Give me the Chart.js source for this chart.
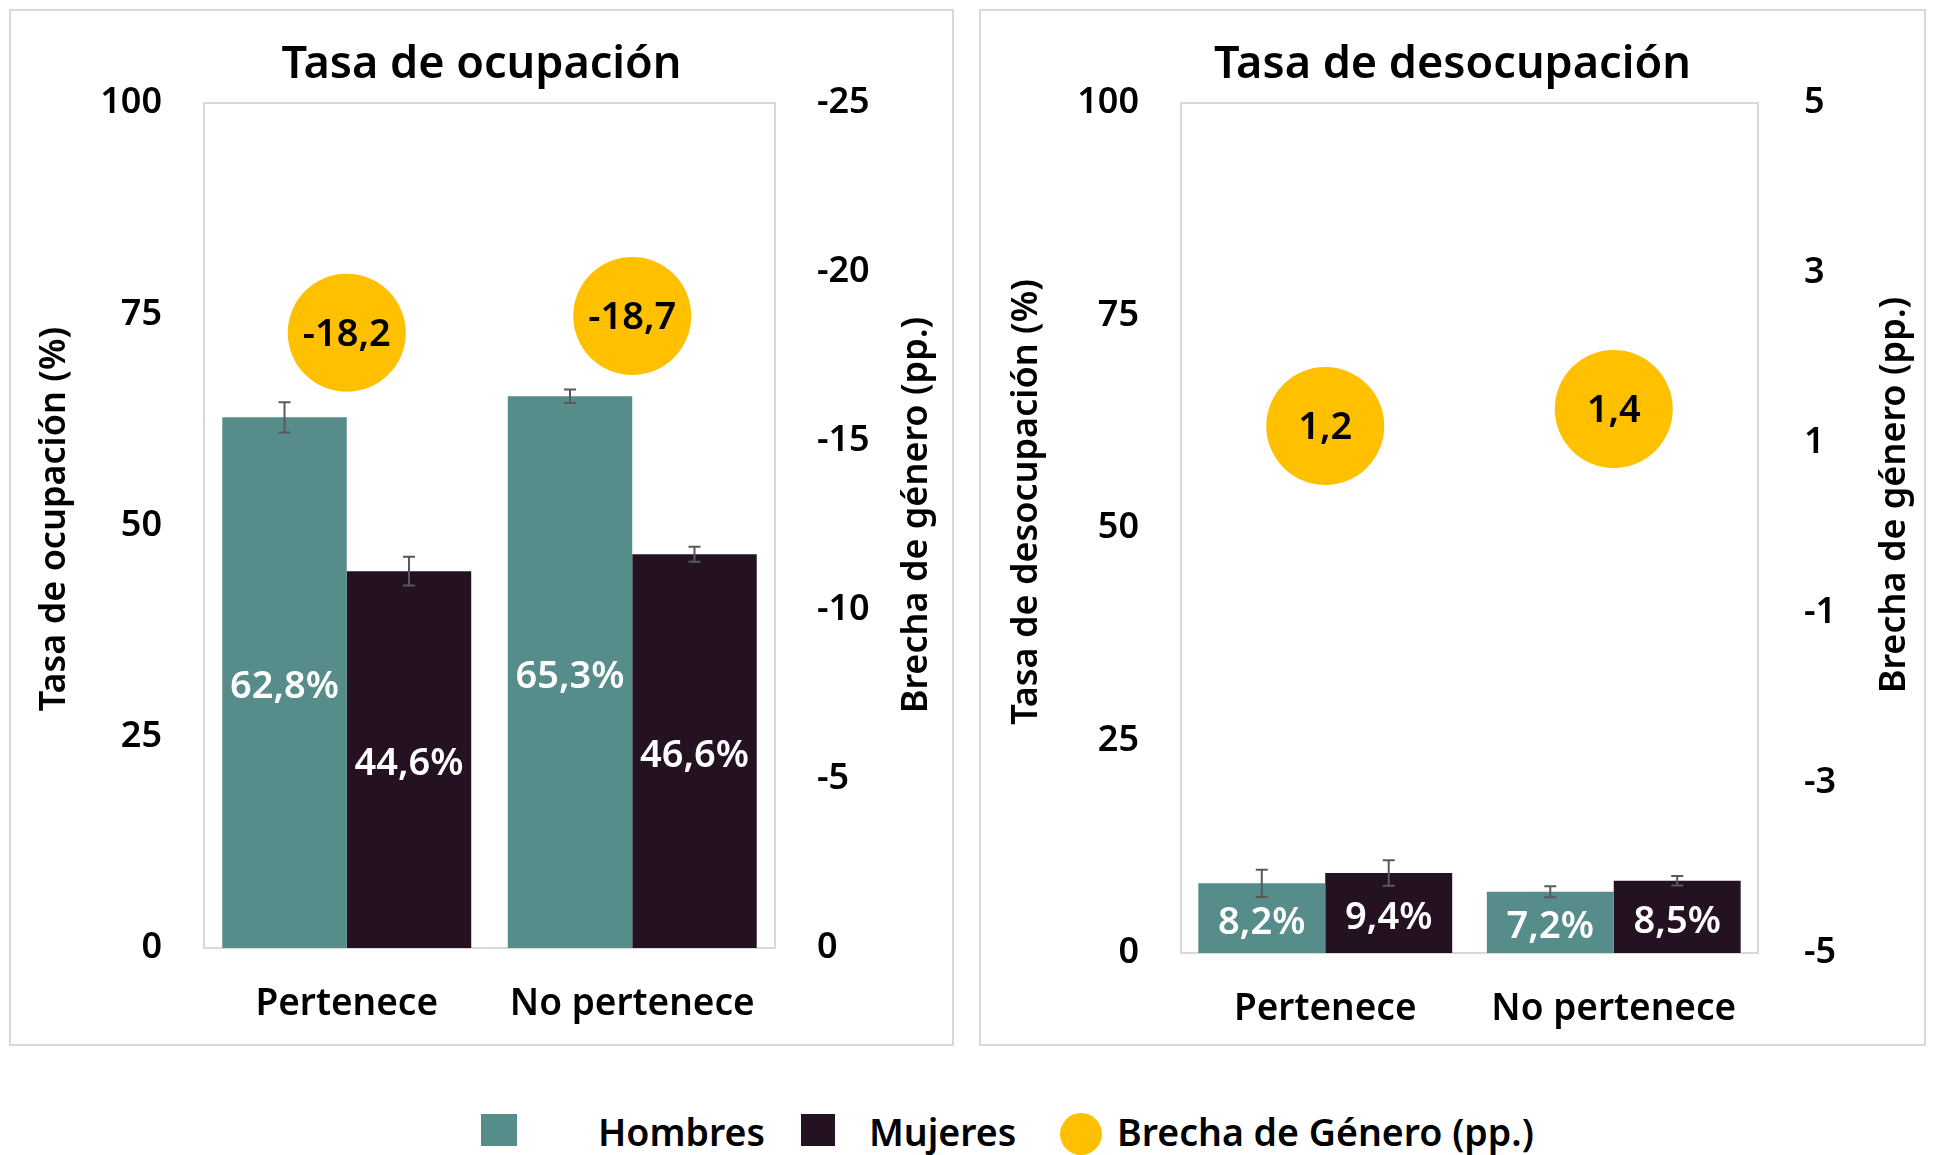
<!DOCTYPE html>
<html lang="es">
<head>
<meta charset="UTF-8">
<title>Tasa de ocupación y desocupación</title>
<script src="https://cdn.jsdelivr.net/npm/chart.js"></script>
<style>
    body {
        margin: 0;
        width: 1933px;
        height: 1155px;
        overflow: hidden;
        background: #fff;
        font-family: 'Noto Sans', sans-serif;
        position: relative;
    }
    .panel {
        position: absolute;
        top: 9px;
        height: 1037px;
        box-sizing: border-box;
        border: 2px solid #d9d9d9;
    }
    #panelLeft { left: 9px; width: 945px; }
    #panelRight { left: 979px; width: 947px; }
    .panel canvas { position: absolute; left: 0; top: 0; }
    .legend-item {
        position: absolute;
        top: 1107px;
        font-size: 37.5px;
        font-weight: 600;
        color: #000;
        line-height: 50px;
        white-space: nowrap;
    }
    .swatch { position: absolute; }
</style>
</head>
<body>

<div class="panel" id="panelLeft"><canvas id="chartOcup" width="941" height="1033"></canvas></div>
<div class="panel" id="panelRight"><canvas id="chartDesocup" width="943" height="1033"></canvas></div>
<div id="legend"></div>

<script>
    // categorías y series
    const categories = ["Pertenece", "No pertenece"];
    const seriesNames = ["Hombres", "Mujeres", "Brecha de Género (pp.)"];
    const colors = ["#568c89", "#241223", "#ffc000"];

    // Tasa de ocupación (%)
    const ocupHombres = [62.8, 65.3];
    const ocupMujeres = [44.6, 46.6];
    const ocupHombresErr = [1.8, 0.8];
    const ocupMujeresErr = [1.7, 0.9];
    const ocupBrecha = [-18.2, -18.7];

    // Tasa de desocupación (%)
    const desocupHombres = [8.2, 7.2];
    const desocupMujeres = [9.4, 8.5];
    const desocupHombresErr = [1.6, 0.65];
    const desocupMujeresErr = [1.5, 0.55];
    const desocupBrecha = [1.2, 1.4];

    // ticks
    const rateTicks = [0, 25, 50, 75, 100];
    const ocupGapTicks = [-25, -20, -15, -10, -5, 0];
    const desocupGapTicks = [-5, -3, -1, 1, 3, 5];

    Chart.defaults.font.family = "'Noto Sans', sans-serif";
    Chart.defaults.font.weight = "600";
    Chart.defaults.color = "#000";

    const fmt = v => v.toFixed(1).replace(".", ",");

    // dibuja borde del área, barras de error, etiquetas y títulos
    const extras = {
        id: "extras",
        beforeDatasetsDraw(chart) {
            const a = chart.chartArea, ctx = chart.ctx;
            ctx.save();
            ctx.strokeStyle = "#d9d9d9";
            ctx.lineWidth = 2;
            ctx.strokeRect(a.left, a.top, a.right - a.left, a.bottom - a.top);
            ctx.restore();
        },
        afterDatasetsDraw(chart) {
            const ctx = chart.ctx;
            const yScale = chart.scales.y;
            ctx.save();
            chart.data.datasets.forEach((ds, i) => {
                const meta = chart.getDatasetMeta(i);
                if (ds.type === "line") {
                    ctx.fillStyle = "#000";
                    ctx.font = "600 38px 'Noto Sans'";
                    ctx.textAlign = "center";
                    ctx.textBaseline = "middle";
                    meta.data.forEach((pt, j) => ctx.fillText(fmt(ds.data[j]), pt.x, pt.y + 2));
                    return;
                }
                meta.data.forEach((bar, j) => {
                    const v = ds.data[j], e = ds.errors[j];
                    const t = yScale.getPixelForValue(v + e), b = yScale.getPixelForValue(v - e);
                    ctx.strokeStyle = "#595959";
                    ctx.lineWidth = 2;
                    ctx.beginPath();
                    ctx.moveTo(bar.x, t); ctx.lineTo(bar.x, b);
                    ctx.moveTo(bar.x - 6, t); ctx.lineTo(bar.x + 6, t);
                    ctx.moveTo(bar.x - 6, b); ctx.lineTo(bar.x + 6, b);
                    ctx.stroke();
                    ctx.fillStyle = "#fff";
                    ctx.font = "600 38px 'Noto Sans'";
                    ctx.textAlign = "center";
                    ctx.textBaseline = "middle";
                    ctx.fillText(fmt(v) + "%", bar.x, (bar.y + bar.base) / 2 + 5);
                });
            });
            ctx.restore();
        },
        afterDraw(chart) {
            const ctx = chart.ctx;
            const o = chart.options.plugins.extras;
            ctx.save();
            ctx.fillStyle = "#000";
            ctx.textAlign = "center";
            ctx.textBaseline = "alphabetic";
            ctx.font = "600 45px 'Noto Sans'";
            ctx.fillText(o.title, chart.width / 2, 67);

            ctx.font = "600 36px 'Noto Sans'";
            ctx.textBaseline = "middle";
            [[o.leftTitle, o.leftX, o.leftY], [o.rightTitle, o.rightX, o.rightY]].forEach(([txt, x, y]) => {
                ctx.save();
                ctx.translate(x, y);
                ctx.rotate(-Math.PI / 2);
                ctx.fillText(txt, 0, 0);
                ctx.restore();
            });
            ctx.restore();
        }
    };

    function makeChart(id, opts) {
        const fixedTicks = arr => s => { s.ticks = arr.map(v => ({ value: v })); };
        return new Chart(document.getElementById(id), {
            type: "bar",
            data: {
                labels: categories,
                datasets: [
                    {
                        label: seriesNames[0], data: opts.hombres, errors: opts.hombresErr,
                        backgroundColor: colors[0], yAxisID: "y", order: 2,
                        categoryPercentage: opts.catPct, barPercentage: 1
                    },
                    {
                        label: seriesNames[1], data: opts.mujeres, errors: opts.mujeresErr,
                        backgroundColor: colors[1], yAxisID: "y", order: 2,
                        categoryPercentage: opts.catPct, barPercentage: 1
                    },
                    {
                        type: "line", label: seriesNames[2], data: opts.brecha, yAxisID: "y2",
                        showLine: false, pointRadius: 59, pointHoverRadius: 59,
                        pointBackgroundColor: colors[2], pointBorderWidth: 0, clip: false, order: 1
                    }
                ]
            },
            options: {
                responsive: false,
                animation: false,
                events: [],
                layout: { padding: { top: 92, left: 0, right: 0, bottom: 0 } },
                plugins: {
                    legend: { display: false },
                    tooltip: { enabled: false },
                    extras: opts.text
                },
                scales: {
                    x: {
                        grid: { display: false, drawTicks: false },
                        border: { display: false },
                        ticks: { font: { size: 37, weight: "600" }, padding: 34, color: "#000" },
                        afterFit: s => { s.height = opts.xHeight; }
                    },
                    y: {
                        position: "left", min: 0, max: 100,
                        grid: { display: false, drawTicks: false },
                        border: { display: false },
                        ticks: { font: { size: 36, weight: "600" }, padding: 42, color: "#000" },
                        afterBuildTicks: fixedTicks(rateTicks),
                        afterFit: s => { s.width = opts.leftW; }
                    },
                    y2: {
                        position: "right", min: opts.gapMin, max: opts.gapMax, reverse: opts.reverse,
                        grid: { display: false, drawTicks: false },
                        border: { display: false },
                        ticks: { font: { size: 36, weight: "600" }, padding: opts.rightPad, color: "#000",
                                 callback: v => String(v) },
                        afterBuildTicks: fixedTicks(opts.gapTicks),
                        afterFit: s => { s.width = opts.rightW; }
                    }
                }
            },
            plugins: [extras]
        });
    }

    makeChart("chartOcup", {
        hombres: ocupHombres, mujeres: ocupMujeres,
        hombresErr: ocupHombresErr, mujeresErr: ocupMujeresErr,
        brecha: ocupBrecha, gapMin: -25, gapMax: 0, reverse: true, gapTicks: ocupGapTicks,
        catPct: 0.872, leftW: 193, rightW: 177, xHeight: 96, rightPad: 42,
        text: {
            title: "Tasa de ocupación",
            leftTitle: "Tasa de ocupación (%)", leftX: 44, leftY: 508,
            rightTitle: "Brecha de género (pp.)", rightX: 906, rightY: 504
        }
    });

    makeChart("chartDesocup", {
        hombres: desocupHombres, mujeres: desocupMujeres,
        hombresErr: desocupHombresErr, mujeresErr: desocupMujeresErr,
        brecha: desocupBrecha, gapMin: -5, gapMax: 5, reverse: false, gapTicks: desocupGapTicks,
        catPct: 0.88, leftW: 200, rightW: 166, xHeight: 91, rightPad: 46,
        text: {
            title: "Tasa de desocupación",
            leftTitle: "Tasa de desocupación (%)", leftX: 46, leftY: 491,
            rightTitle: "Brecha de género (pp.)", rightX: 914, rightY: 484
        }
    });

    // leyenda común
    const legendPos = [
        { sw: [481, 1114, 36, 32], tx: 598, round: false },
        { sw: [801, 1114, 34, 32], tx: 869, round: false },
        { sw: [1060, 1113, 42, 42], tx: 1117, round: true }
    ];
    const legend = document.getElementById("legend");
    seriesNames.forEach((name, i) => {
        const p = legendPos[i];
        const sw = document.createElement("div");
        sw.className = "swatch";
        sw.style.cssText = `left:${p.sw[0]}px;top:${p.sw[1]}px;width:${p.sw[2]}px;height:${p.sw[3]}px;background:${colors[i]};border-radius:${p.round ? "50%" : "0"}`;
        legend.appendChild(sw);
        const tx = document.createElement("div");
        tx.className = "legend-item";
        tx.style.left = p.tx + "px";
        tx.textContent = name;
        legend.appendChild(tx);
    });
</script>
</body>
</html>
